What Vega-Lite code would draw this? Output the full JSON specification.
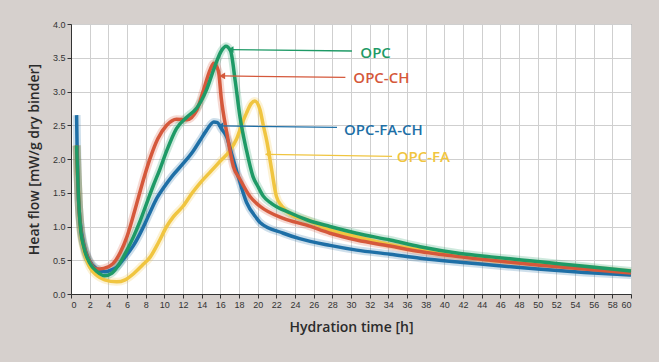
{
  "$schema": "https://vega.github.io/schema/vega-lite/v6.json",
  "width": 560,
  "height": 270,
  "autosize": {"type": "none"},
  "padding": {"left": 71, "top": 24, "right": 28, "bottom": 68},
  "background": "#d6d0cd",
  "config": {
    "view": {"fill": "white", "stroke": "#666", "strokeWidth": 1},
    "font": "Open Sans",
    "axis": {
      "labelFont": "Liberation Sans",
      "labelFontSize": 9,
      "labelColor": "#333",
      "tickColor": "#333",
      "tickSize": 4,
      "labelPadding": 2,
      "domainColor": "#333",
      "gridColor": "#cfcfcf",
      "gridWidth": 1,
      "labelOverlap": false,
      "titleFont": "Open Sans",
      "titleFontSize": 14,
      "titleFontWeight": 600,
      "titleColor": "#2b2b2b"
    },
    "axisX": {"titlePadding": 11},
    "axisY": {"titlePadding": 11}
  },
  "datasets": {
    "curves": [
      {"s":"OPC-FA","t":0.6,"v":2.2},{"s":"OPC-FA","t":0.7,"v":1.8},{"s":"OPC-FA","t":0.85,"v":1.3},{"s":"OPC-FA","t":1.0,"v":0.98},{"s":"OPC-FA","t":1.4,"v":0.64},{"s":"OPC-FA","t":2.0,"v":0.4},{"s":"OPC-FA","t":2.8,"v":0.27},{"s":"OPC-FA","t":3.6,"v":0.21},{"s":"OPC-FA","t":4.9,"v":0.18},{"s":"OPC-FA","t":5.8,"v":0.21},{"s":"OPC-FA","t":6.7,"v":0.3},{"s":"OPC-FA","t":7.6,"v":0.42},{"s":"OPC-FA","t":8.5,"v":0.55},{"s":"OPC-FA","t":9.4,"v":0.77},{"s":"OPC-FA","t":10.25,"v":1.0},{"s":"OPC-FA","t":11.0,"v":1.15},{"s":"OPC-FA","t":12.0,"v":1.3},{"s":"OPC-FA","t":13.0,"v":1.5},{"s":"OPC-FA","t":13.8,"v":1.64},{"s":"OPC-FA","t":15.0,"v":1.82},{"s":"OPC-FA","t":16.0,"v":1.97},{"s":"OPC-FA","t":17.0,"v":2.12},{"s":"OPC-FA","t":17.75,"v":2.3},{"s":"OPC-FA","t":18.4,"v":2.55},{"s":"OPC-FA","t":18.8,"v":2.68},{"s":"OPC-FA","t":19.3,"v":2.82},{"s":"OPC-FA","t":19.7,"v":2.86},{"s":"OPC-FA","t":20.25,"v":2.73},{"s":"OPC-FA","t":20.6,"v":2.5},{"s":"OPC-FA","t":21.0,"v":2.25},{"s":"OPC-FA","t":21.5,"v":1.84},{"s":"OPC-FA","t":22.0,"v":1.45},{"s":"OPC-FA","t":22.6,"v":1.3},{"s":"OPC-FA","t":23.5,"v":1.18},{"s":"OPC-FA","t":25.25,"v":1.1},{"s":"OPC-FA","t":27.75,"v":0.95},{"s":"OPC-FA","t":30.6,"v":0.85},{"s":"OPC-FA","t":34.2,"v":0.73},{"s":"OPC-FA","t":37.4,"v":0.65},{"s":"OPC-FA","t":41.7,"v":0.56},{"s":"OPC-FA","t":45,"v":0.5},{"s":"OPC-FA","t":50,"v":0.44},{"s":"OPC-FA","t":55,"v":0.38},{"s":"OPC-FA","t":60,"v":0.32},

      {"s":"OPC-FA-CH","t":0.6,"v":2.65},{"s":"OPC-FA-CH","t":0.65,"v":2.2},{"s":"OPC-FA-CH","t":0.75,"v":1.6},{"s":"OPC-FA-CH","t":0.9,"v":1.2},{"s":"OPC-FA-CH","t":1.0,"v":1.05},{"s":"OPC-FA-CH","t":1.4,"v":0.72},{"s":"OPC-FA-CH","t":2.0,"v":0.49},{"s":"OPC-FA-CH","t":2.8,"v":0.37},{"s":"OPC-FA-CH","t":3.6,"v":0.33},{"s":"OPC-FA-CH","t":4.4,"v":0.36},{"s":"OPC-FA-CH","t":4.9,"v":0.4},{"s":"OPC-FA-CH","t":5.8,"v":0.55},{"s":"OPC-FA-CH","t":6.7,"v":0.72},{"s":"OPC-FA-CH","t":7.6,"v":0.95},{"s":"OPC-FA-CH","t":8.5,"v":1.22},{"s":"OPC-FA-CH","t":9.2,"v":1.42},{"s":"OPC-FA-CH","t":9.9,"v":1.57},{"s":"OPC-FA-CH","t":10.8,"v":1.74},{"s":"OPC-FA-CH","t":12.0,"v":1.93},{"s":"OPC-FA-CH","t":13.1,"v":2.12},{"s":"OPC-FA-CH","t":13.8,"v":2.27},{"s":"OPC-FA-CH","t":14.5,"v":2.42},{"s":"OPC-FA-CH","t":15.3,"v":2.55},{"s":"OPC-FA-CH","t":15.7,"v":2.54},{"s":"OPC-FA-CH","t":16.1,"v":2.45},{"s":"OPC-FA-CH","t":16.7,"v":2.32},{"s":"OPC-FA-CH","t":17.2,"v":2.08},{"s":"OPC-FA-CH","t":17.75,"v":1.82},{"s":"OPC-FA-CH","t":18.8,"v":1.36},{"s":"OPC-FA-CH","t":19.9,"v":1.12},{"s":"OPC-FA-CH","t":20.25,"v":1.06},{"s":"OPC-FA-CH","t":22.75,"v":0.9},{"s":"OPC-FA-CH","t":24.5,"v":0.82},{"s":"OPC-FA-CH","t":27.75,"v":0.72},{"s":"OPC-FA-CH","t":30.6,"v":0.65},{"s":"OPC-FA-CH","t":34.2,"v":0.59},{"s":"OPC-FA-CH","t":37.4,"v":0.53},{"s":"OPC-FA-CH","t":41.7,"v":0.47},{"s":"OPC-FA-CH","t":45,"v":0.43},{"s":"OPC-FA-CH","t":50,"v":0.37},{"s":"OPC-FA-CH","t":55,"v":0.32},{"s":"OPC-FA-CH","t":60,"v":0.28},

      {"s":"OPC-CH","t":0.6,"v":2.2},{"s":"OPC-CH","t":0.7,"v":1.8},{"s":"OPC-CH","t":0.85,"v":1.3},{"s":"OPC-CH","t":1.0,"v":1.02},{"s":"OPC-CH","t":1.4,"v":0.7},{"s":"OPC-CH","t":2.0,"v":0.48},{"s":"OPC-CH","t":2.75,"v":0.37},{"s":"OPC-CH","t":3.5,"v":0.38},{"s":"OPC-CH","t":4.5,"v":0.45},{"s":"OPC-CH","t":5.3,"v":0.62},{"s":"OPC-CH","t":6.0,"v":0.85},{"s":"OPC-CH","t":7.0,"v":1.32},{"s":"OPC-CH","t":7.9,"v":1.76},{"s":"OPC-CH","t":8.5,"v":2.02},{"s":"OPC-CH","t":9.3,"v":2.3},{"s":"OPC-CH","t":10.25,"v":2.5},{"s":"OPC-CH","t":11.3,"v":2.59},{"s":"OPC-CH","t":12.4,"v":2.58},{"s":"OPC-CH","t":13.5,"v":2.73},{"s":"OPC-CH","t":14.2,"v":3.02},{"s":"OPC-CH","t":14.9,"v":3.32},{"s":"OPC-CH","t":15.3,"v":3.42},{"s":"OPC-CH","t":15.8,"v":3.3},{"s":"OPC-CH","t":16.1,"v":2.9},{"s":"OPC-CH","t":16.7,"v":2.38},{"s":"OPC-CH","t":17.4,"v":1.89},{"s":"OPC-CH","t":18.1,"v":1.7},{"s":"OPC-CH","t":19.2,"v":1.44},{"s":"OPC-CH","t":20.25,"v":1.3},{"s":"OPC-CH","t":22.75,"v":1.12},{"s":"OPC-CH","t":25.25,"v":1.02},{"s":"OPC-CH","t":27.75,"v":0.9},{"s":"OPC-CH","t":30.6,"v":0.8},{"s":"OPC-CH","t":34.2,"v":0.71},{"s":"OPC-CH","t":37.4,"v":0.63},{"s":"OPC-CH","t":41.7,"v":0.55},{"s":"OPC-CH","t":45,"v":0.5},{"s":"OPC-CH","t":50,"v":0.43},{"s":"OPC-CH","t":55,"v":0.37},{"s":"OPC-CH","t":60,"v":0.31},

      {"s":"OPC","t":0.6,"v":2.2},{"s":"OPC","t":0.7,"v":1.8},{"s":"OPC","t":0.85,"v":1.3},{"s":"OPC","t":1.0,"v":1.0},{"s":"OPC","t":1.4,"v":0.68},{"s":"OPC","t":2.0,"v":0.46},{"s":"OPC","t":2.8,"v":0.33},{"s":"OPC","t":3.6,"v":0.27},{"s":"OPC","t":4.4,"v":0.31},{"s":"OPC","t":5.2,"v":0.45},{"s":"OPC","t":6.0,"v":0.65},{"s":"OPC","t":6.7,"v":0.85},{"s":"OPC","t":7.4,"v":1.08},{"s":"OPC","t":8.1,"v":1.34},{"s":"OPC","t":8.8,"v":1.6},{"s":"OPC","t":9.5,"v":1.84},{"s":"OPC","t":10.25,"v":2.12},{"s":"OPC","t":11.3,"v":2.45},{"s":"OPC","t":12.4,"v":2.62},{"s":"OPC","t":13.5,"v":2.76},{"s":"OPC","t":14.5,"v":3.02},{"s":"OPC","t":15.4,"v":3.37},{"s":"OPC","t":16.1,"v":3.6},{"s":"OPC","t":16.6,"v":3.67},{"s":"OPC","t":17.1,"v":3.6},{"s":"OPC","t":17.6,"v":3.15},{"s":"OPC","t":18.1,"v":2.63},{"s":"OPC","t":18.8,"v":2.13},{"s":"OPC","t":19.5,"v":1.74},{"s":"OPC","t":20.0,"v":1.6},{"s":"OPC","t":20.6,"v":1.45},{"s":"OPC","t":21.5,"v":1.34},{"s":"OPC","t":23.5,"v":1.2},{"s":"OPC","t":25.25,"v":1.1},{"s":"OPC","t":27.75,"v":1.0},{"s":"OPC","t":30.6,"v":0.9},{"s":"OPC","t":34.2,"v":0.8},{"s":"OPC","t":37.4,"v":0.7},{"s":"OPC","t":41.7,"v":0.6},{"s":"OPC","t":45,"v":0.55},{"s":"OPC","t":50,"v":0.48},{"s":"OPC","t":55,"v":0.41},{"s":"OPC","t":60,"v":0.34}
    ],
    "labels": [
      {"s":"OPC","t":17.1,"v":3.62,"t2":30.1,"v2":3.6,"tx":31.0,"ty":3.57},
      {"s":"OPC-CH","t":16.2,"v":3.23,"t2":29.4,"v2":3.21,"tx":30.25,"ty":3.2},
      {"s":"OPC-FA-CH","t":16.0,"v":2.49,"t2":28.5,"v2":2.47,"tx":29.25,"ty":2.43},
      {"s":"OPC-FA","t":21.1,"v":2.07,"t2":34.4,"v2":2.04,"tx":34.9,"ty":2.03}
    ]
  },
  "data": {"name": "curves"},
  "layer": [
    {
      "mark": {"type": "line", "strokeWidth": 8, "opacity": 0.22, "interpolate": "monotone"},
      "encoding": {
        "x": {"field": "t", "type": "quantitative", "title": "Hydration time [h]",
              "scale": {"domain": [0, 60], "nice": false},
              "axis": {"values": [0,2,4,6,8,10,12,14,16,18,20,22,24,26,28,30,32,34,36,38,40,42,44,46,48,50,52,54,56,58,60], "grid": true}},
        "y": {"field": "v", "type": "quantitative", "title": "Heat flow [mW/g dry binder]",
              "scale": {"domain": [0, 4], "nice": false},
              "axis": {"values": [0,0.5,1,1.5,2,2.5,3,3.5,4], "format": ".1f", "grid": true}},
        "color": {"field": "s", "type": "nominal", "legend": null,
                  "scale": {"domain": ["OPC","OPC-CH","OPC-FA-CH","OPC-FA"], "range": ["#1e9a66","#d5583b","#1e6fa6","#f0c540"]}},
        "detail": {"field": "s"}
      }
    },
    {
      "mark": {"type": "line", "strokeWidth": 3.5, "interpolate": "monotone"},
      "encoding": {
        "x": {"field": "t", "type": "quantitative", "title": "Hydration time [h]",
              "axis": {"values": [0,2,4,6,8,10,12,14,16,18,20,22,24,26,28,30,32,34,36,38,40,42,44,46,48,50,52,54,56,58,60], "grid": true}},
        "y": {"field": "v", "type": "quantitative", "title": "Heat flow [mW/g dry binder]",
              "axis": {"values": [0,0.5,1,1.5,2,2.5,3,3.5,4], "format": ".1f", "grid": true}},
        "color": {"field": "s", "type": "nominal", "legend": null},
        "detail": {"field": "s"}
      }
    },
    {
      "data": {"name": "labels"},
      "mark": {"type": "rule", "strokeWidth": 1.3},
      "encoding": {
        "x": {"field": "t", "type": "quantitative", "title": "Hydration time [h]",
              "axis": {"values": [0,2,4,6,8,10,12,14,16,18,20,22,24,26,28,30,32,34,36,38,40,42,44,46,48,50,52,54,56,58,60], "grid": true}},
        "x2": {"field": "t2"},
        "y": {"field": "v", "type": "quantitative", "title": "Heat flow [mW/g dry binder]",
              "axis": {"values": [0,0.5,1,1.5,2,2.5,3,3.5,4], "format": ".1f", "grid": true}},
        "y2": {"field": "v2"},
        "color": {"field": "s", "type": "nominal", "legend": null}
      }
    },
    {
      "data": {"name": "labels"},
      "mark": {"type": "point", "shape": "triangle-left", "filled": true, "size": 45, "opacity": 1},
      "encoding": {
        "x": {"field": "t", "type": "quantitative", "title": "Hydration time [h]",
              "axis": {"values": [0,2,4,6,8,10,12,14,16,18,20,22,24,26,28,30,32,34,36,38,40,42,44,46,48,50,52,54,56,58,60], "grid": true}},
        "y": {"field": "v", "type": "quantitative", "title": "Heat flow [mW/g dry binder]",
              "axis": {"values": [0,0.5,1,1.5,2,2.5,3,3.5,4], "format": ".1f", "grid": true}},
        "color": {"field": "s", "type": "nominal", "legend": null}
      }
    },
    {
      "data": {"name": "labels"},
      "mark": {"type": "text", "align": "left", "baseline": "middle", "fontSize": 15, "fontWeight": 600, "font": "Open Sans"},
      "encoding": {
        "x": {"field": "tx", "type": "quantitative", "title": "Hydration time [h]",
              "axis": {"values": [0,2,4,6,8,10,12,14,16,18,20,22,24,26,28,30,32,34,36,38,40,42,44,46,48,50,52,54,56,58,60], "grid": true}},
        "y": {"field": "ty", "type": "quantitative", "title": "Heat flow [mW/g dry binder]",
              "axis": {"values": [0,0.5,1,1.5,2,2.5,3,3.5,4], "format": ".1f", "grid": true}},
        "text": {"field": "s"},
        "color": {"field": "s", "type": "nominal", "legend": null}
      }
    }
  ]
}
